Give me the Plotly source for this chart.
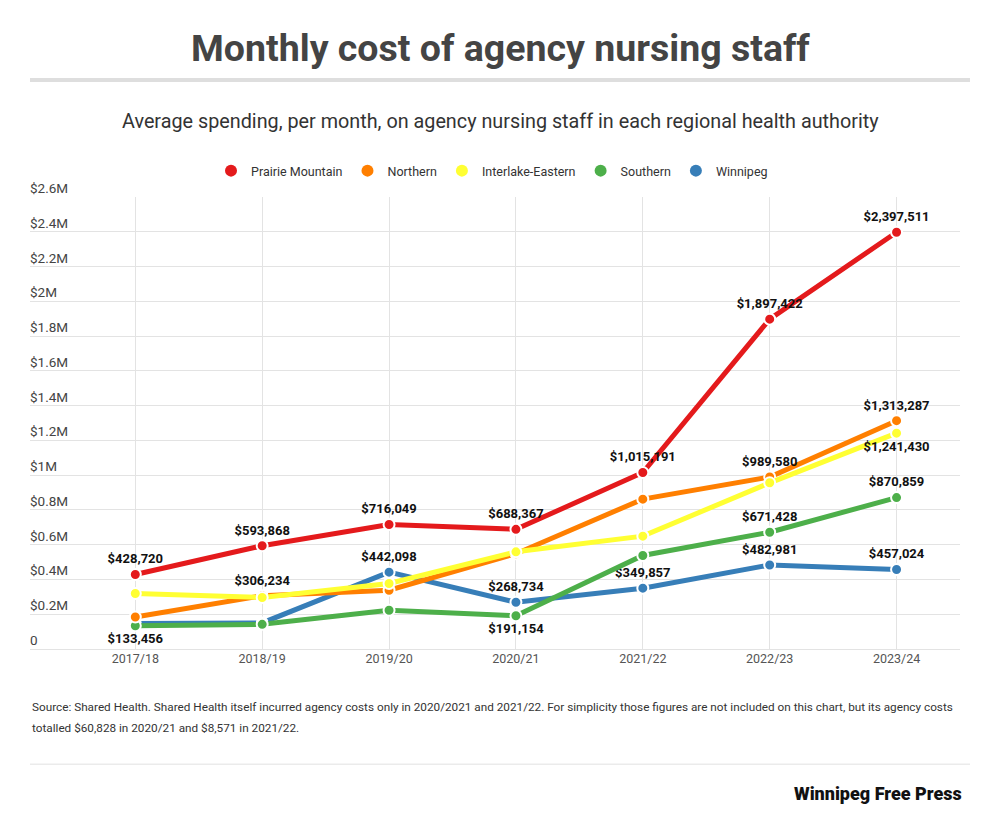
import plotly.graph_objects as go

# fiscal years on the x axis
years = ["2017/18", "2018/19", "2019/20", "2020/21", "2021/22", "2022/23", "2023/24"]

# average monthly spending per health authority (dollars)
prairie_mountain = [428720, 593868, 716049, 688367, 1015191, 1897422, 2397511]
northern = [184000, 306234, 338000, 548000, 862000, 989580, 1313287]
interlake_eastern = [319000, 296000, 377000, 559000, 649000, 956000, 1241430]
southern = [133456, 142000, 223000, 191154, 538000, 671428, 870859]
winnipeg = [146000, 150000, 442098, 268734, 349857, 482981, 457024]

# which points carry a value label, and where
pm_text = ["$428,720", "$593,868", "$716,049", "$688,367", "$1,015,191", "$1,897,422", "$2,397,511"]
no_text = ["", "$306,234", "", "", "", "$989,580", "$1,313,287"]
ie_text = ["", "", "", "", "", "", "$1,241,430"]
so_text = ["$133,456", "", "", "$191,154", "", "$671,428", "$870,859"]
wi_text = ["", "", "$442,098", "$268,734", "$349,857", "$482,981", "$457,024"]

pm_pos = ["top center"] * 7
no_pos = ["top center"] * 7
ie_pos = ["bottom center"] * 7
so_pos = ["bottom center", "top center", "top center", "bottom center", "top center", "top center", "top center"]
wi_pos = ["top center"] * 7

y_ticks = [0, 200000, 400000, 600000, 800000, 1000000, 1200000, 1400000, 1600000,
           1800000, 2000000, 2200000, 2400000, 2600000]
y_tick_text = ["0", "$0.2M", "$0.4M", "$0.6M", "$0.8M", "$1M", "$1.2M", "$1.4M", "$1.6M",
               "$1.8M", "$2M", "$2.2M", "$2.4M", "$2.6M"]

series = [
    # name, values, labels, label positions, colour
    ("Winnipeg", winnipeg, wi_text, wi_pos, "#377eb8"),
    ("Southern", southern, so_text, so_pos, "#4daf4a"),
    ("Northern", northern, no_text, no_pos, "#ff7f00"),
    ("Interlake-Eastern", interlake_eastern, ie_text, ie_pos, "#ffff33"),
    ("Prairie Mountain", prairie_mountain, pm_text, pm_pos, "#e41a1c"),
]
legend_order = ["Prairie Mountain", "Northern", "Interlake-Eastern", "Southern", "Winnipeg"]
colors = {s[0]: s[4] for s in series}

fig = go.Figure()

for name, vals, txt, pos, col in series:
    fig.add_trace(go.Scatter(
        x=years, y=vals, name=name, mode="lines+markers+text",
        line=dict(color=col, width=5),
        marker=dict(size=11, color=col, line=dict(color="white", width=2)),
        text=txt, textposition=pos,
        textfont=dict(family="Roboto", size=13, color="#111", weight="bold"),
        showlegend=False, cliponaxis=False,
    ))

# legend entries as plain dots
for name in legend_order:
    fig.add_trace(go.Scatter(
        x=[None], y=[None], name=name, mode="markers",
        marker=dict(size=14, color=colors[name]),
    ))

# the page has an 8px body margin, so figure pixels = page pixels - 8
OFF = 8

# page pixels -> paper coords (plot area on page: x 30..960, y 197..648.75)
def px_x(p):
    return (p - 30) / 930

def px_y(p):
    return (648.75 - p) / 451.75

fig.update_layout(
    width=1000, height=826,
    margin=dict(l=30 - OFF, r=1000 - 960 + OFF, t=197 - OFF, b=826 - 648.75 + OFF, autoexpand=False),
    paper_bgcolor="white", plot_bgcolor="white",
    font=dict(family="Roboto", color="#444"),
    showlegend=True,
    legend=dict(orientation="h", xref="container", yref="container",
                x=(492 - OFF) / 1000, xanchor="center", y=1 - (171 - OFF) / 826, yanchor="middle",
                font=dict(size=12.5, color="#333"), itemsizing="constant",
                tracegroupgap=0),
    xaxis=dict(type="category", range=[-0.83, 6.5], showgrid=True, gridcolor="#e3e3e3",
               gridwidth=1, showline=False, ticks="", tickfont=dict(size=12.5, color="#555")),
    yaxis=dict(range=[0, 2600000], tickvals=y_ticks, showticklabels=False,
               showgrid=True, gridcolor="#e3e3e3", gridwidth=1,
               zeroline=True, zerolinecolor="#e3e3e3", zerolinewidth=1),
)

# y labels sit above their gridlines, at the left edge
for v, t in zip(y_ticks, y_tick_text):
    fig.add_annotation(text=t, xref="paper", yref="y", x=0, y=v, xanchor="left",
                       yanchor="middle", yshift=9, xshift=-2, showarrow=False,
                       font=dict(family="Roboto", size=13.5, color="#444"))

fig.add_annotation(text="<b>Monthly cost of agency nursing staff</b>", xref="paper", yref="paper",
                   x=px_x(500), y=px_y(48), xanchor="center", yanchor="middle", showarrow=False,
                   font=dict(family="Roboto", size=37.5, color="#444"))
fig.add_annotation(text="Average spending, per month, on agency nursing staff in each regional health authority",
                   xref="paper", yref="paper", x=px_x(500), y=px_y(122), xanchor="center",
                   yanchor="middle", showarrow=False,
                   font=dict(family="Roboto", size=19.8, color="#333"))
fig.add_annotation(text="Source: Shared Health. Shared Health itself incurred agency costs only in 2020/2021 and 2021/22. "
                        "For simplicity those figures are not included on this chart, but its agency costs",
                   xref="paper", yref="paper", x=px_x(30), y=px_y(707), xanchor="left",
                   yanchor="middle", showarrow=False,
                   font=dict(family="Roboto", size=11.75, color="#333"))
fig.add_annotation(text="totalled $60,828 in 2020/21 and $8,571 in 2021/22.",
                   xref="paper", yref="paper", x=px_x(30), y=px_y(728), xanchor="left",
                   yanchor="middle", showarrow=False,
                   font=dict(family="Roboto", size=11.75, color="#333"))
fig.add_annotation(text="Winnipeg Free Press", xref="paper", yref="paper", x=px_x(964), y=px_y(793),
                   xanchor="right", yanchor="middle", showarrow=False,
                   font=dict(family="Roboto", size=18, color="#111", weight=900))

# grey rules under the title and above the logo
fig.add_shape(type="line", xref="paper", yref="paper", x0=px_x(30), x1=px_x(970),
              y0=px_y(80), y1=px_y(80), line=dict(color="#dedede", width=4))
fig.add_shape(type="line", xref="paper", yref="paper", x0=px_x(30), x1=px_x(970),
              y0=px_y(764), y1=px_y(764), line=dict(color="#ebebeb", width=1.5))

fig.write_html("out.html")
